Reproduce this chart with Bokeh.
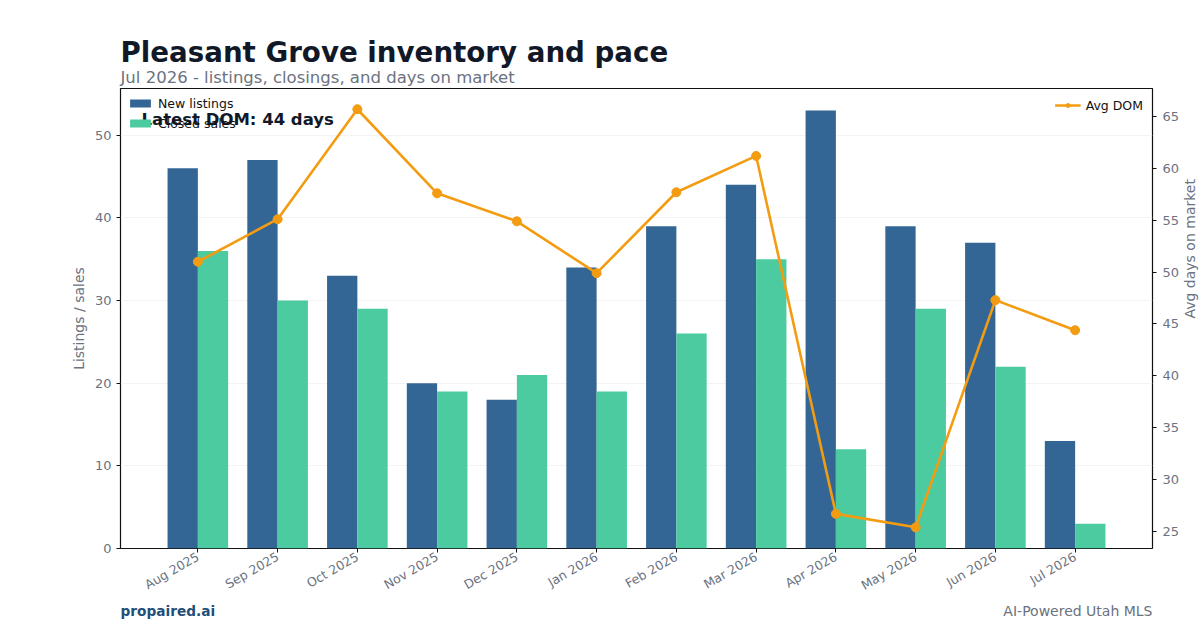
import numpy as np
from bokeh.plotting import figure
from bokeh.layouts import column
from bokeh.core.properties import value
from bokeh.models import (Range1d, LinearAxis, Legend, LegendItem, Label, ColumnDataSource,
                          FixedTicker, SingleIntervalTicker)
from bokeh.transform import dodge
from bokeh.embed import file_html
from bokeh.resources import INLINE

months = ["Aug 2025", "Sep 2025", "Oct 2025", "Nov 2025", "Dec 2025", "Jan 2026",
          "Feb 2026", "Mar 2026", "Apr 2026", "May 2026", "Jun 2026", "Jul 2026"]
new_listings = [46, 47, 33, 20, 18, 34, 39, 44, 53, 39, 37, 13]
closed_sales = [36, 30, 29, 19, 21, 19, 26, 35, 12, 29, 22, 3]
avg_dom = [51.0, 55.1, 65.7, 57.6, 54.9, 49.9, 57.7, 61.2, 26.7, 25.4, 47.3, 44.4]

title_text = "Pleasant Grove inventory and pace"
subtitle_text = "Jul 2026 - listings, closings, and days on market"
annot_text = "Latest DOM: 44 days"
brand_text = "propaired.ai"
tagline_text = "AI-Powered Utah MLS"

FONT = "DejaVu Sans"
GRAY = "#6b7280"
DARK = "#111827"
BLUE = "#336695"
GREEN = "#4bcb9f"
ORANGE = "#f39c12"

idx = list(range(len(months)))
src = ColumnDataSource(dict(idx=idx, new=new_listings, closed=closed_sales, dom=avg_dom))


def blank_fig(h):
    f = figure(frame_width=1200, frame_height=h, output_backend="svg", toolbar_location=None,
               x_range=Range1d(0, 1200), y_range=Range1d(h, 0),
               min_border=0, min_border_left=0, min_border_right=0,
               min_border_top=0, min_border_bottom=0, frame_align=False)
    f.axis.visible = False
    f.grid.visible = False
    f.outline_line_color = None
    f.background_fill_color = "white"
    f.border_fill_color = "white"
    return f


# header
head = blank_fig(87)
head.text(x=[120], y=[52], text=[title_text], text_font=value(FONT), text_font_size="27.7px",
          text_font_style="bold", text_color=DARK, text_baseline="middle")
head.text(x=[120], y=[77], text=[subtitle_text], text_font=value(FONT), text_font_size="16.5px",
          text_color=GRAY, text_baseline="middle")

# main chart
p = figure(frame_width=1032, frame_height=460, output_backend="svg", toolbar_location=None,
           x_range=Range1d(-0.97, 11.97), y_range=Range1d(0, 55.65),
           min_border_left=120, min_border_right=48, min_border_top=1, min_border_bottom=40,
           frame_align=False)
p.extra_y_ranges = {"dom": Range1d(23.36, 67.7)}

r_new = p.vbar(x=dodge("idx", -0.19), top="new", width=0.38, source=src,
               fill_color=BLUE, line_color=None)
r_closed = p.vbar(x=dodge("idx", 0.19), top="closed", width=0.38, source=src,
                  fill_color=GREEN, line_color=None)
r_line = p.line(x="idx", y="dom", source=src, y_range_name="dom", line_color=ORANGE, line_width=2.6)
r_pts = p.scatter(x="idx", y="dom", source=src, y_range_name="dom", size=9,
                  fill_color=ORANGE, line_color=ORANGE)

p.xaxis.ticker = FixedTicker(ticks=idx)
p.xaxis.major_label_overrides = {i: m for i, m in enumerate(months)}
p.xaxis.major_label_orientation = np.pi / 6
p.yaxis.ticker = SingleIntervalTicker(interval=10)
p.yaxis.axis_label = "Listings / sales"

right = LinearAxis(y_range_name="dom", axis_label="Avg days on market",
                   ticker=SingleIntervalTicker(interval=5))
p.add_layout(right, "right")

for ax in [p.xaxis[0], p.yaxis[0], right]:
    ax.axis_line_color = None
    ax.major_tick_line_color = "#111111"
    ax.major_tick_out = 4
    ax.major_tick_in = 0
    ax.minor_tick_line_color = None
    ax.major_label_text_font = FONT
    ax.major_label_text_font_size = "13px"
    ax.major_label_text_color = GRAY
    ax.axis_label_text_font = FONT
    ax.axis_label_text_font_size = "14px"
    ax.axis_label_text_color = GRAY
    ax.axis_label_text_font_style = "normal"
p.xaxis.major_label_text_font_size = "12.5px"
p.xaxis.major_label_standoff = 3
right.axis_label_orientation = np.pi / 2
right.axis_label_standoff = 8
right.major_label_standoff = 6

p.xgrid.grid_line_color = None
p.ygrid.grid_line_color = "#eeeeee"
p.ygrid.grid_line_width = 0.7
p.ygrid.ticker = SingleIntervalTicker(interval=10)

p.outline_line_color = "#111111"
p.outline_line_width = 1.2
p.background_fill_color = "white"
p.border_fill_color = "white"


def style_legend(lg):
    lg.label_text_font = FONT
    lg.label_text_font_size = "12.5px"
    lg.label_text_color = "#111111"
    lg.border_line_color = None
    lg.background_fill_alpha = 0.0
    lg.glyph_width = 26
    lg.glyph_height = 10
    lg.label_height = 16
    lg.spacing = 4
    lg.padding = 8
    lg.margin = 7


leg1 = Legend(items=[LegendItem(label="New listings", renderers=[r_new]),
                     LegendItem(label="Closed sales", renderers=[r_closed])],
              location="top_left")
leg2 = Legend(items=[LegendItem(label="Avg DOM", renderers=[r_line, r_pts])],
              location="top_right")
style_legend(leg1)
style_legend(leg2)
leg2.margin = 9
p.add_layout(leg1)
p.add_layout(leg2)

p.add_layout(Label(x=21, y=429, x_units="screen", y_units="screen", text=annot_text,
                   text_font=FONT, text_font_size="16.5px", text_font_style="bold",
                   text_color=DARK, text_baseline="middle", level="overlay"))

# footer
foot = blank_fig(34)
foot.text(x=[120], y=[8], text=[brand_text], text_font=value(FONT), text_font_size="13.7px",
          text_font_style="bold", text_color="#1f4e79", text_baseline="middle")
foot.text(x=[1152], y=[8], text=[tagline_text], text_font=value(FONT), text_font_size="14px",
          text_color=GRAY, text_baseline="middle", text_align="right")

layout = column(head, p, foot, spacing=0)
open("out.html", "w").write(file_html(layout, INLINE))
